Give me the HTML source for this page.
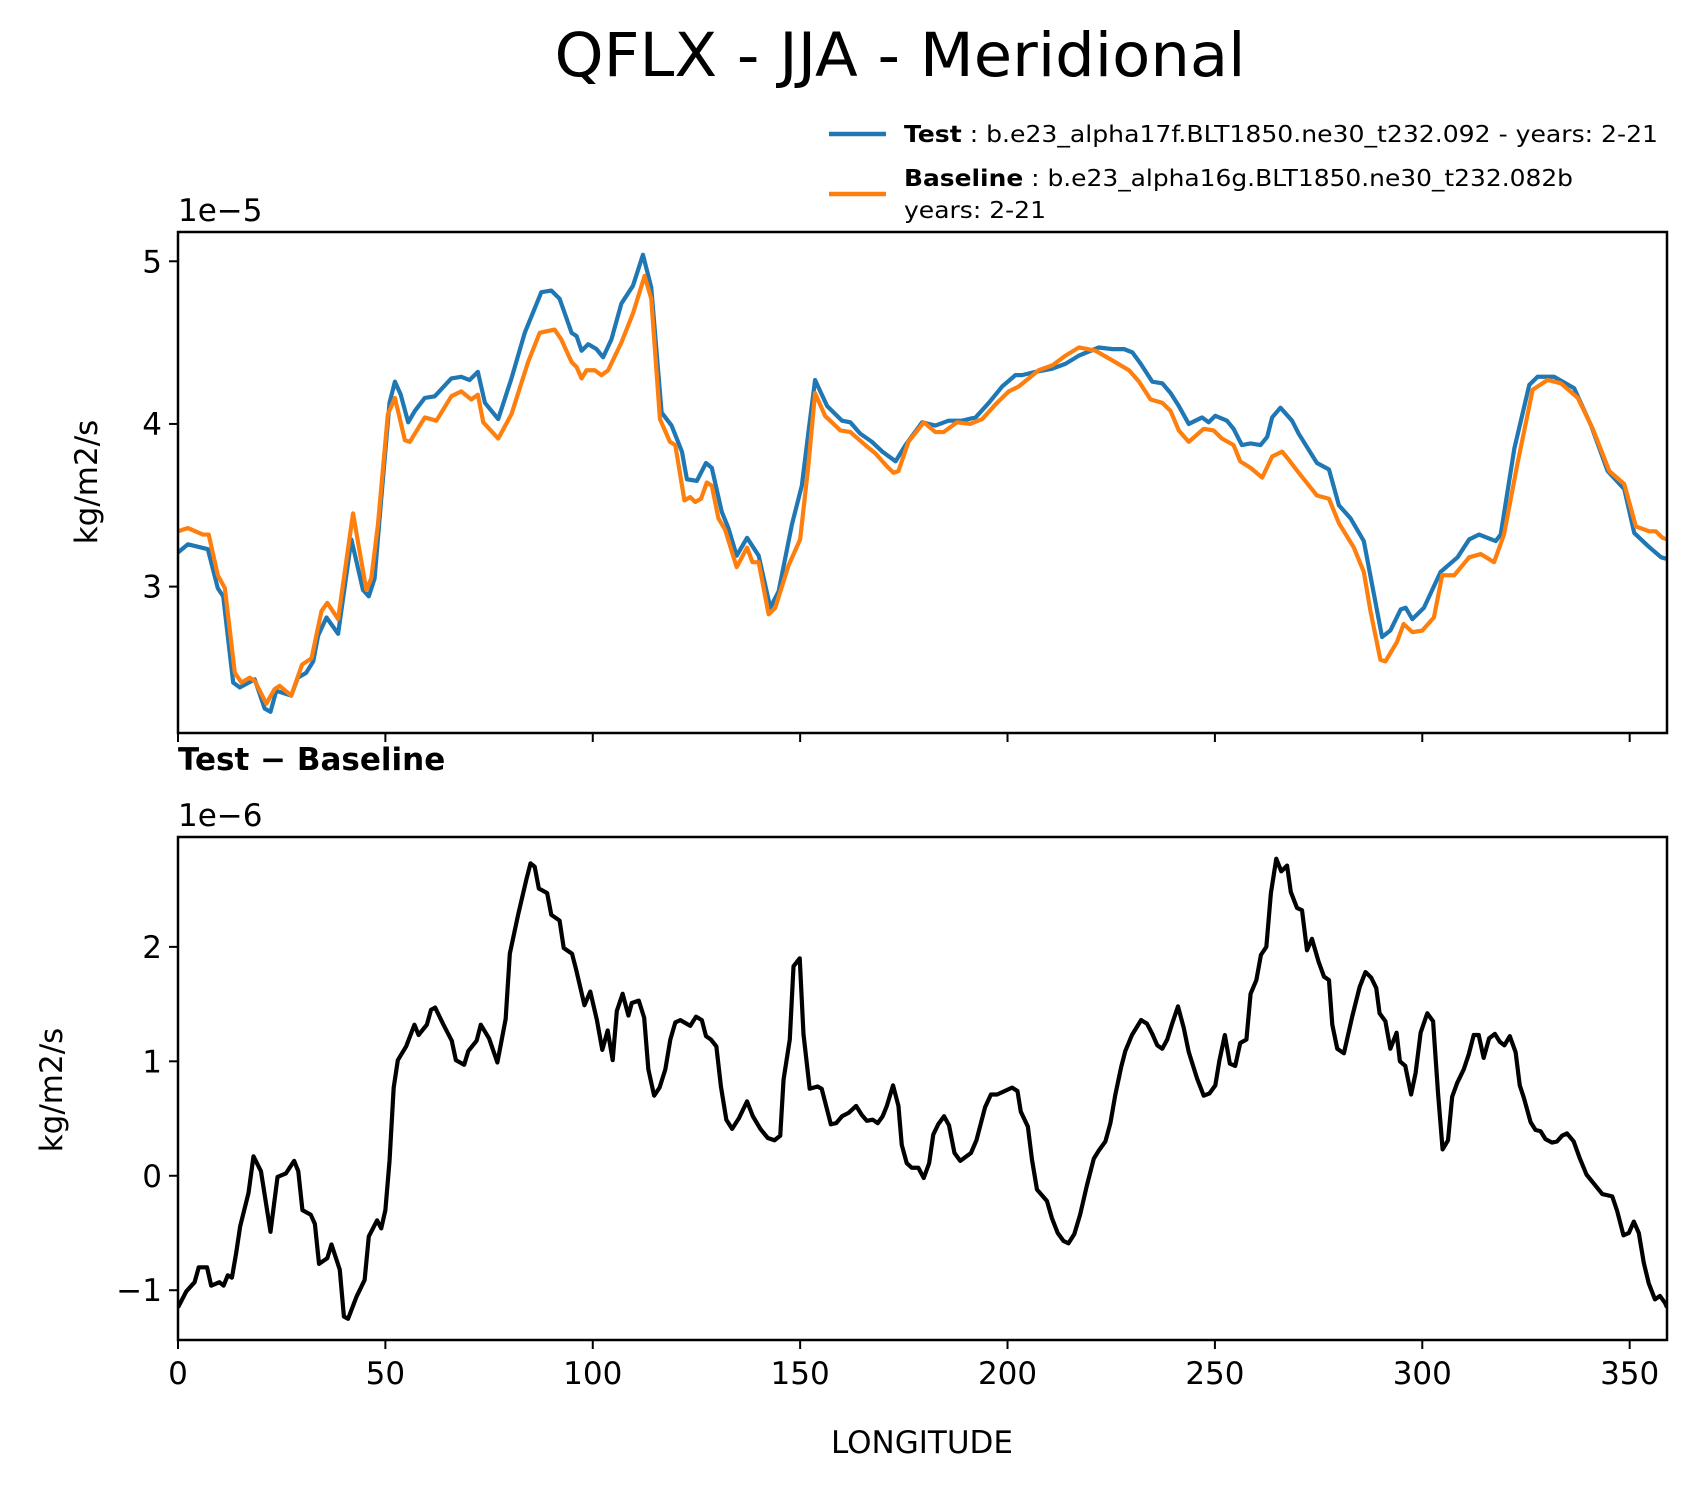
<!DOCTYPE html>
<html><head><meta charset="utf-8">
<style>
html,body{margin:0;padding:0;background:#fff;}
svg{display:block;font-family:"DejaVu Sans","Liberation Sans",sans-serif;}
</style></head>
<body>
<svg id="fig" width="1698" height="1496" viewBox="0 0 1698 1496" xmlns="http://www.w3.org/2000/svg">
  <rect x="0" y="0" width="1698" height="1496" fill="#fff"/>
  <text x="900" y="76" font-size="61" text-anchor="middle" textLength="691" lengthAdjust="spacingAndGlyphs">QFLX - JJA - Meridional</text>

  <g>
    <line x1="829" y1="134" x2="886" y2="134" stroke="#1f77b4" stroke-width="4.5"/>
    <text x="904" y="142" font-size="23" textLength="754" lengthAdjust="spacingAndGlyphs"><tspan font-weight="bold">Test</tspan> : b.e23_alpha17f.BLT1850.ne30_t232.092 - years: 2-21</text>
    <line x1="829" y1="194" x2="886" y2="194" stroke="#ff7f0e" stroke-width="4.5"/>
    <text x="904" y="186" font-size="23" textLength="669" lengthAdjust="spacingAndGlyphs"><tspan font-weight="bold">Baseline</tspan> : b.e23_alpha16g.BLT1850.ne30_t232.082b</text>
    <text x="904" y="218" font-size="23" textLength="142" lengthAdjust="spacingAndGlyphs">years: 2-21</text>
  </g>

  <g id="top"></g>
  <g id="bot"></g>

  <text x="178" y="221" font-size="31">1e−5</text>
  <text x="178" y="770" font-size="31" font-weight="bold">Test − Baseline</text>
  <text x="178" y="826" font-size="31">1e−6</text>
  <text transform="translate(97,482) rotate(-90)" font-size="31" text-anchor="middle">kg/m2/s</text>
  <text transform="translate(62,1090) rotate(-90)" font-size="31" text-anchor="middle">kg/m2/s</text>
  <text x="922" y="1453" font-size="31" text-anchor="middle">LONGITUDE</text>
</svg>
<script>
// ---- data ----
const testLon = [0,2.4,7.2,9.6,10.9,13.3,14.9,18.5,20.9,22.3,23.7,27.3,28.9,30.9,32.6,33.8,35.8,38.6,41.8,44.6,46,47.4,49,51,52.3,53.7,55.5,57.1,59.5,61.9,65.9,68.3,70.3,72.3,74,77.2,80.4,83.6,87.6,90,92,94.9,96.1,97.3,98.9,100.9,102.5,104.5,106.9,109.7,112.1,114.1,116.6,119,121.5,122.7,125.1,127.3,128.7,131.1,132.7,134.7,137.2,140,142.8,144.8,148,150.4,152,153.6,156.5,160.1,162.1,164.5,167.3,169.8,173,175.4,179.4,182.6,185.8,189,192.3,195.5,198.7,201.9,203.5,206.7,210.8,214,217.2,222,225.3,228.1,230.1,232.1,234.9,237.3,239.3,241.3,243.7,246.9,248.5,250.1,252.9,254.5,256.5,258.6,261,262.6,263.8,265.8,268.6,270.2,274.6,277.5,279.9,282.7,285.9,290.3,292.3,294.8,296,297.6,300.4,304.4,308.5,311.3,313.7,315.7,317.7,318.9,322.2,325.8,327.8,331.8,336.6,340.7,344.7,348.7,351.1,354.4,357.6,359];
const testVal = [3.21,3.26,3.23,2.99,2.94,2.41,2.38,2.43,2.25,2.23,2.36,2.33,2.44,2.47,2.54,2.70,2.81,2.71,3.29,2.98,2.94,3.05,3.54,4.13,4.26,4.18,4.01,4.08,4.16,4.17,4.28,4.29,4.27,4.32,4.13,4.03,4.28,4.56,4.81,4.82,4.77,4.56,4.54,4.45,4.49,4.46,4.41,4.52,4.74,4.85,5.04,4.84,4.07,3.99,3.83,3.66,3.65,3.76,3.73,3.46,3.36,3.19,3.30,3.19,2.87,2.97,3.38,3.62,3.95,4.27,4.11,4.02,4.01,3.94,3.89,3.83,3.77,3.87,4.01,3.99,4.02,4.02,4.04,4.13,4.23,4.30,4.30,4.32,4.34,4.37,4.42,4.47,4.46,4.46,4.44,4.37,4.26,4.25,4.19,4.11,4.00,4.04,4.01,4.05,4.02,3.97,3.87,3.88,3.87,3.92,4.04,4.10,4.02,3.94,3.76,3.72,3.50,3.42,3.28,2.69,2.73,2.86,2.87,2.80,2.87,3.09,3.18,3.29,3.32,3.30,3.28,3.32,3.85,4.24,4.29,4.29,4.22,3.99,3.71,3.60,3.33,3.25,3.18,3.17];
const baseLon = [0,2.4,6,7.4,9.6,11.3,13.7,15.3,17.3,18.5,21.3,23.3,24.5,27.3,29.9,32.2,34.6,36,38.6,42.2,45.4,46.6,48.2,50.6,52.3,54.7,55.9,59.5,62.3,65.9,68.3,70.7,72.3,73.6,77.2,80.4,84.4,87.2,90.8,92.4,94.9,96.1,97.3,98.5,100.5,102.1,103.7,106.9,109.7,112.5,114.1,116.2,118.6,119.9,122.1,123.5,124.7,126.1,127.5,128.7,130.3,131.9,134.7,137.2,138.5,140,142.4,144,147.2,150,152,153.6,156,159.7,162.1,165.7,168.1,170.9,172.5,173.7,176.1,179.8,182.6,184.6,187.8,191,193.9,197.1,200.3,202.7,205.1,207.5,210.8,214,217.2,221.2,225.3,229.3,231.7,234.5,237.3,239.3,241.3,243.7,247.3,249.7,251.7,254.5,256.1,258.6,261.4,263.8,266.2,267.8,269.9,274.6,277.5,279.9,283.5,285.9,287.5,289.9,291.1,293.9,295.5,297.6,300,302.8,304.8,307.7,311.3,314.1,317.3,319.7,322.9,326.6,330.2,333.4,337.5,341.1,345.1,348.7,351.5,354.7,356.3,357.9,359];
const baseVal = [3.34,3.36,3.32,3.32,3.07,2.99,2.47,2.41,2.44,2.42,2.28,2.37,2.39,2.33,2.52,2.56,2.85,2.90,2.80,3.45,2.98,3.05,3.38,4.06,4.16,3.90,3.89,4.04,4.02,4.17,4.20,4.15,4.18,4.01,3.91,4.06,4.38,4.56,4.58,4.52,4.38,4.35,4.28,4.33,4.33,4.30,4.33,4.50,4.68,4.91,4.77,4.03,3.89,3.87,3.53,3.55,3.52,3.54,3.64,3.62,3.42,3.35,3.12,3.24,3.15,3.15,2.83,2.87,3.13,3.29,3.75,4.19,4.05,3.96,3.95,3.87,3.82,3.74,3.70,3.71,3.89,4.01,3.95,3.95,4.01,4.00,4.03,4.12,4.20,4.23,4.28,4.33,4.36,4.42,4.47,4.45,4.39,4.33,4.26,4.15,4.13,4.08,3.96,3.89,3.97,3.96,3.91,3.87,3.77,3.73,3.67,3.80,3.83,3.78,3.71,3.56,3.54,3.39,3.24,3.09,2.85,2.55,2.54,2.66,2.77,2.72,2.73,2.81,3.07,3.07,3.18,3.20,3.15,3.32,3.75,4.21,4.27,4.25,4.16,3.97,3.71,3.63,3.37,3.34,3.34,3.30,3.29];
const diffLon = [0,2,4,5,7,8,10,11,12,13,14,15,17,18.2,20,22.3,24,26,28,29,30,32,33,34,36,37,39,40,41,43,45,46,48,49,50,51,52,53,55,57,58,60,61,62,64,66,67,69,70,72,73,75,77,79,80,82,84,85,86,87,89,90,92,93,95,96,98,99.4,101,102.3,103.6,104.8,105.8,107.2,108.6,109.4,111.1,112.4,113.4,114.8,116.1,117.5,118.7,119.9,121.1,123.5,124.9,126.3,127.3,128.5,129.8,130.9,132.2,133.6,135.2,137.2,138.6,140.4,142.2,143.8,145.2,146,147.5,148.4,149.9,150.8,152.3,154.2,155.2,157.4,158.7,160.1,161.7,163.5,164.9,166.1,167.5,168.7,169.9,170.9,172.4,173.7,174.5,175.7,176.9,178.5,179.8,181.1,182.1,183.3,184.7,185.9,187.2,188.6,191.2,192.5,194.6,196,197.5,201.1,202.4,203.2,204.9,205.9,207.1,209.5,210.7,212.1,213.5,214.7,216.1,217.5,219.1,220.8,222,223.6,224.8,226,227.4,228.4,230,232.2,233.6,234.9,236.1,237.3,238.5,239.7,241.1,242.5,243.7,245.7,247.3,248.7,250.1,251.1,252.4,253.6,254.9,256.1,257.6,258.6,260,261.1,262.4,263.5,264.8,266,267.4,268.3,269.8,271,272.2,273.4,275,276.3,277.5,278.3,279.5,281.1,283.1,284.9,286.3,287.7,288.9,289.7,291.1,292.3,293.8,294.6,295.9,297.3,298.4,299.6,301.2,302.6,303.8,304.9,306.2,307.2,308.4,310,311.2,312.4,313.6,314.8,316.1,317.5,318.7,319.8,321.1,322.5,323.5,324.5,326.1,327.3,328.5,329.7,331.3,332.5,333.7,334.9,336.5,338,339.6,341.4,343.4,345.8,347,348.5,349.8,351,352.2,353.4,354.6,356.1,357.3,358.5,359];
const diffVal = [-1.15,-1.01,-0.93,-0.80,-0.80,-0.96,-0.93,-0.96,-0.87,-0.89,-0.68,-0.44,-0.15,0.17,0.04,-0.49,-0.01,0.02,0.13,0.04,-0.30,-0.34,-0.42,-0.77,-0.72,-0.60,-0.82,-1.23,-1.25,-1.06,-0.91,-0.53,-0.39,-0.46,-0.30,0.13,0.77,1.01,1.13,1.32,1.23,1.32,1.45,1.47,1.32,1.18,1.01,0.97,1.09,1.18,1.32,1.20,0.99,1.37,1.94,2.28,2.59,2.73,2.70,2.51,2.47,2.28,2.23,1.99,1.94,1.80,1.49,1.61,1.36,1.10,1.27,1.01,1.44,1.59,1.40,1.51,1.53,1.38,0.93,0.70,0.77,0.93,1.19,1.34,1.36,1.31,1.39,1.36,1.22,1.19,1.13,0.78,0.49,0.41,0.50,0.65,0.52,0.41,0.33,0.31,0.35,0.84,1.19,1.83,1.90,1.24,0.76,0.78,0.76,0.45,0.46,0.52,0.55,0.61,0.53,0.48,0.49,0.46,0.52,0.61,0.79,0.61,0.27,0.11,0.07,0.07,-0.02,0.11,0.36,0.45,0.52,0.44,0.20,0.13,0.20,0.31,0.60,0.71,0.71,0.77,0.74,0.56,0.43,0.14,-0.12,-0.22,-0.37,-0.50,-0.57,-0.59,-0.51,-0.34,-0.09,0.15,0.22,0.30,0.46,0.71,0.95,1.09,1.23,1.36,1.33,1.24,1.14,1.11,1.19,1.33,1.48,1.29,1.08,0.85,0.70,0.72,0.79,1.01,1.23,0.98,0.96,1.16,1.19,1.59,1.71,1.93,2.00,2.47,2.77,2.66,2.71,2.48,2.34,2.32,1.97,2.07,1.87,1.74,1.71,1.32,1.11,1.07,1.39,1.65,1.78,1.73,1.64,1.42,1.35,1.11,1.25,1.00,0.96,0.71,0.90,1.25,1.42,1.35,0.72,0.23,0.31,0.69,0.81,0.93,1.06,1.23,1.23,1.03,1.20,1.24,1.17,1.14,1.22,1.08,0.79,0.68,0.47,0.40,0.39,0.32,0.29,0.30,0.35,0.37,0.30,0.15,0.01,-0.07,-0.16,-0.18,-0.31,-0.52,-0.50,-0.40,-0.50,-0.76,-0.94,-1.08,-1.05,-1.11,-1.15];
const xTicks = [0,50,100,150,200,250,300,350];
const topYTicks = [3,4,5];
const botYTicks = [-1,0,1,2];

// ---- layout ----
const NS = 'http://www.w3.org/2000/svg';
const X0 = 178, X1 = 1667;
const xMin = 0, xMax = 359;
function sx(v){ return X0 + (v - xMin) / (xMax - xMin) * (X1 - X0); }
const TOP = {y0:232, y1:733, vMin:2.10, vMax:5.18};
const BOT = {y0:837, y1:1340, vMin:-1.435, vMax:2.96};
function syTop(v){ return TOP.y1 - (v - TOP.vMin)/(TOP.vMax - TOP.vMin)*(TOP.y1 - TOP.y0); }
function syBot(v){ return BOT.y1 - (v - BOT.vMin)/(BOT.vMax - BOT.vMin)*(BOT.y1 - BOT.y0); }

function mk(tag, attrs, parent){
  const el = document.createElementNS(NS, tag);
  for (const k in attrs) el.setAttribute(k, attrs[k]);
  parent.appendChild(el);
  return el;
}
function path(xs, ys, sy){
  let d = '';
  for (let i = 0; i < xs.length; i++) d += (i ? 'L' : 'M') + sx(xs[i]).toFixed(2) + ',' + sy(ys[i]).toFixed(2);
  return d;
}

function drawPanel(g, P, sy, yTicks, showXLabels, id){
  const clipId = 'clip-' + id;
  const cp = mk('clipPath', {id: clipId}, g);
  mk('rect', {x: X0, y: P.y0, width: X1 - X0, height: P.y1 - P.y0}, cp);
  yTicks.forEach(t => {
    const y = sy(t);
    const tk = mk('line', {x1: X0 - 9, x2: X0, y1: y, y2: y, stroke: '#000', 'stroke-width': 2}, g);
    
    
    const lb = mk('text', {x: X0 - 16, y: y + 11, 'font-size': 31, 'text-anchor': 'end'}, g);
    lb.textContent = t < 0 ? '−' + Math.abs(t) : String(t);
    
    
  });
  xTicks.forEach(t => {
    const x = sx(t);
    const tk = mk('line', {x1: x, x2: x, y1: P.y1, y2: P.y1 + 9, stroke: '#000', 'stroke-width': 2}, g);
    
    
    if (showXLabels){
      const lb = mk('text', {x: x, y: P.y1 + 44, 'font-size': 31, 'text-anchor': 'middle'}, g);
      lb.textContent = String(t);
      
      
    }
  });
  return clipId;
}

const gTop = document.getElementById('top');
const cTop = drawPanel(gTop, TOP, syTop, topYTicks, false, 'top');
const lt = mk('path', {d: path(testLon, testVal, syTop), fill: 'none', stroke: '#1f77b4', 'stroke-width': 4.2, 'stroke-linejoin': 'round', 'clip-path': 'url(#' + cTop + ')'}, gTop);


const lbase = mk('path', {d: path(baseLon, baseVal, syTop), fill: 'none', stroke: '#ff7f0e', 'stroke-width': 4.2, 'stroke-linejoin': 'round', 'clip-path': 'url(#' + cTop + ')'}, gTop);


const fTop = mk('rect', {x: X0, y: TOP.y0, width: X1 - X0, height: TOP.y1 - TOP.y0, fill: 'none', stroke: '#000', 'stroke-width': 2.5}, gTop);



const gBot = document.getElementById('bot');
const cBot = drawPanel(gBot, BOT, syBot, botYTicks, true, 'bottom');
const ld = mk('path', {d: path(diffLon, diffVal, syBot), fill: 'none', stroke: '#000', 'stroke-width': 4.2, 'stroke-linejoin': 'round', 'clip-path': 'url(#' + cBot + ')'}, gBot);


const fBot = mk('rect', {x: X0, y: BOT.y0, width: X1 - X0, height: BOT.y1 - BOT.y0, fill: 'none', stroke: '#000', 'stroke-width': 2.5}, gBot);


</script>
</body></html>
